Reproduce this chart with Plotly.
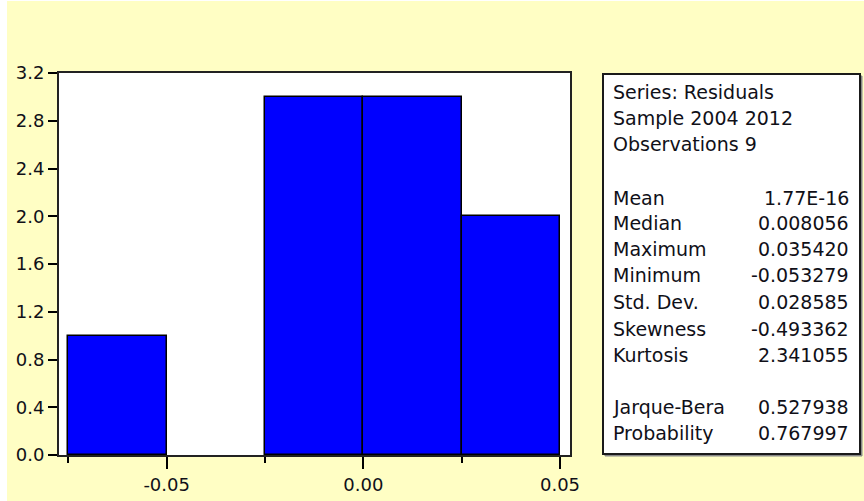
import plotly.graph_objects as go

# ---- data ----
bin_edges = [-0.075, -0.05, -0.025, 0.0, 0.025, 0.05]
counts = [1, 0, 3, 3, 2]

y_ticks = [0.0, 0.4, 0.8, 1.2, 1.6, 2.0, 2.4, 2.8, 3.2]
x_major_ticks = [-0.05, 0.0, 0.05]
x_major_labels = ["-0.05", "0.00", "0.05"]
x_minor_ticks = [-0.075, -0.025, 0.025]

header_lines = ["Series: Residuals", "Sample 2004 2012", "Observations 9"]
stat_labels = ["Mean", "Median", "Maximum", "Minimum", "Std. Dev.",
               "Skewness", "Kurtosis", "Jarque-Bera", "Probability"]
stat_values = ["1.77E-16", "0.008056", "0.035420", "-0.053279", "0.028585",
               "-0.493362", "2.341055", "0.527938", "0.767997"]

# ---- layout geometry (pixels) ----
W, H = 864, 501
L, R, T, B = 59, 570, 73, 455
pw, ph = R - L, B - T


def px_x(x):
    return (x - L) / pw


def px_y(y):
    return (B - y) / ph


centers = [(bin_edges[i] + bin_edges[i + 1]) / 2 for i in range(len(counts))]
widths = [bin_edges[i + 1] - bin_edges[i] for i in range(len(counts))]
outline_w = [1.5 if c > 0 else 0 for c in counts]

FONT = "DejaVu Sans"
TXT = "#101018"

fig = go.Figure()
fig.add_trace(go.Bar(
    x=centers, y=counts, width=widths,
    marker=dict(color="#0000FF", line=dict(color="#000000", width=outline_w)),
    hoverinfo="x+y",
))

fig.update_layout(
    width=W, height=H,
    margin=dict(l=L, r=W - R, t=T, b=H - B, pad=0, autoexpand=False),
    paper_bgcolor="#FFFEC4",
    plot_bgcolor="#FFFFFF",
    showlegend=False,
    bargap=0,
    font=dict(family=FONT, size=18, color=TXT),
)

fig.update_xaxes(
    range=[-0.07737, 0.05254], automargin=False,
    tickmode="array", tickvals=x_major_ticks, ticktext=x_major_labels,
    ticks="outside", ticklen=12, tickwidth=1.5, tickcolor="#000",
    minor=dict(tickmode="array", tickvals=x_minor_ticks, ticks="outside",
               ticklen=6, tickwidth=1.5, tickcolor="#000", showgrid=False),
    showgrid=False, zeroline=False,
    showline=True, linecolor="#222", linewidth=2, mirror=True,
    tickfont=dict(family=FONT, size=18, color=TXT),
)
fig.update_yaxes(
    range=[0, 3.2], automargin=False,
    tickmode="array", tickvals=y_ticks, tickformat=".1f",
    ticks="outside", ticklen=9, tickwidth=1.5, tickcolor="#000",
    showgrid=False, zeroline=False,
    showline=True, linecolor="#222", linewidth=2, mirror=True,
    tickfont=dict(family=FONT, size=18, color=TXT),
)

# thin white strips at the left and top edge of the window
fig.add_shape(type="rect", xref="paper", yref="paper",
              x0=px_x(0), x1=px_x(7), y0=px_y(H), y1=px_y(0),
              line=dict(width=0), fillcolor="#FFFFFF", layer="below")
fig.add_shape(type="rect", xref="paper", yref="paper",
              x0=px_x(0), x1=px_x(W), y0=px_y(1), y1=px_y(0),
              line=dict(width=0), fillcolor="#FFFFFF", layer="below")

# ---- statistics box ----
bx0, by0, bx1, by1 = 603, 74, 860, 454
fig.add_shape(type="rect", xref="paper", yref="paper",
              x0=px_x(bx0 + 2), x1=px_x(bx1 + 2), y0=px_y(by1 + 2), y1=px_y(by0 + 2),
              line=dict(color="#888", width=1), fillcolor="#888", layer="below")
fig.add_shape(type="rect", xref="paper", yref="paper",
              x0=px_x(bx0), x1=px_x(bx1), y0=px_y(by1), y1=px_y(by0),
              line=dict(color="#1a1a1a", width=2), fillcolor="#FFFFFF", layer="below")

header_y = [92, 117.5, 143.5]
stat_y = [197.5, 222.5, 248.5, 275, 302, 328.5, 355, 407, 433]
lab_x = 611
val_x = 851
STAT_SIZE = 19

for txt, yy in zip(header_lines, header_y):
    fig.add_annotation(x=px_x(lab_x), y=px_y(yy), xref="paper", yref="paper",
                       text=txt, showarrow=False, xanchor="left", yanchor="middle",
                       font=dict(family=FONT, size=STAT_SIZE, color=TXT))
for lab, val, yy in zip(stat_labels, stat_values, stat_y):
    fig.add_annotation(x=px_x(lab_x), y=px_y(yy), xref="paper", yref="paper",
                       text=lab, showarrow=False, xanchor="left", yanchor="middle",
                       font=dict(family=FONT, size=STAT_SIZE, color=TXT))
    fig.add_annotation(x=px_x(val_x), y=px_y(yy), xref="paper", yref="paper",
                       text=val, showarrow=False, xanchor="right", yanchor="middle",
                       font=dict(family=FONT, size=STAT_SIZE, color=TXT))

fig.write_html("out.html",
               config={"displayModeBar": False},
               post_script="document.body.style.margin='0';document.body.style.overflow='hidden';")
